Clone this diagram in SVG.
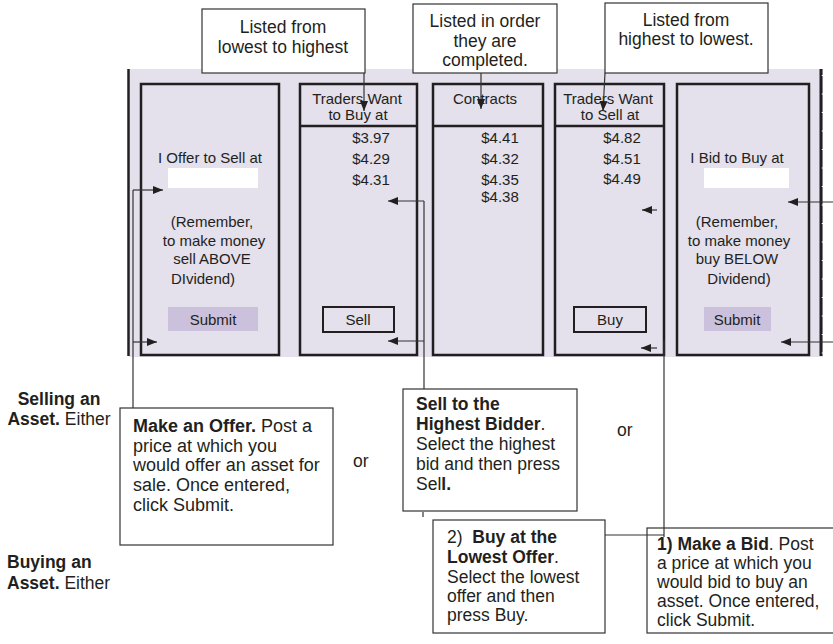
<svg xmlns="http://www.w3.org/2000/svg" width="833" height="644" viewBox="0 0 833 644">
<style>
  text { font-family: "Liberation Sans", Arial, sans-serif; fill: #231f20; }
  .col { fill: none; stroke: #231f20; stroke-width: 2.5; }
  .call { fill: #ffffff; stroke: #333333; stroke-width: 1.2; }
  .ct { font-size: 17.5px; }
  .ct18 { font-size: 18px; }
  .ft { font-size: 15px; }
  .mid { text-anchor: middle; }
  .b { font-weight: bold; }
  .conn { fill: none; stroke: #333333; stroke-width: 1.2; }
  .input { fill: #ffffff; }
  .submit { fill: #cbc1dc; }
  .btn { fill: none; stroke: #231f20; stroke-width: 2; }
</style>
<defs>
  <marker id="ah" viewBox="0 0 10 8" refX="10" refY="4" markerWidth="10" markerHeight="8" markerUnits="userSpaceOnUse" orient="auto">
    <path d="M0,0 L10,4 L0,8 Z" fill="#231f20"/>
  </marker>
</defs>

<g id="panel">
  <rect x="129" y="69" width="694" height="288" fill="#e4e0ec"/>
  <line x1="128.5" y1="69" x2="128.5" y2="356" stroke="#231f20" stroke-width="2.5"/>
  <line x1="821" y1="69" x2="821" y2="356" stroke="#231f20" stroke-width="3"/>
  <line x1="822.5" y1="75" x2="822.5" y2="356" stroke="#ffffff" stroke-width="1.5" stroke-dasharray="1 17.5"/>
</g>

<g id="col-offer">
  <rect class="col" x="141" y="84" width="138" height="271"/>
  <text class="ft mid" x="210" y="163">I Offer to Sell at</text>
  <rect class="input" x="168" y="168" width="90" height="20"/>
  <text class="ft mid" x="212" y="227">(Remember,</text>
  <text class="ft mid" x="214" y="246">to make money</text>
  <text class="ft mid" x="212" y="264">sell ABOVE</text>
  <text class="ft mid" x="203" y="284">DIvidend)</text>
  <rect class="submit" x="168" y="307" width="90" height="24"/>
  <text class="ft mid" x="213" y="325">Submit</text>
</g>

<g id="col-buy-orders">
  <rect class="col" x="300" y="84" width="117" height="271"/>
  <line class="col" x1="300" y1="126" x2="417" y2="126"/>
  <text class="ft mid" x="357" y="104">Traders Want</text>
  <text class="ft mid" x="358" y="120">to Buy at</text>
  <text class="ft mid" x="371" y="143">$3.97</text>
  <text class="ft mid" x="371" y="164">$4.29</text>
  <text class="ft mid" x="371" y="185">$4.31</text>
  <rect class="btn" x="323" y="307" width="71" height="25"/>
  <text class="ft mid" x="358" y="325">Sell</text>
</g>

<g id="col-contracts">
  <rect class="col" x="433" y="84" width="110" height="271"/>
  <line class="col" x1="433" y1="126" x2="543" y2="126"/>
  <text class="ft mid" x="485" y="104">Contracts</text>
  <text class="ft mid" x="500" y="143">$4.41</text>
  <text class="ft mid" x="500" y="164">$4.32</text>
  <text class="ft mid" x="500" y="185">$4.35</text>
  <text class="ft mid" x="500" y="202">$4.38</text>
</g>

<g id="col-sell-orders">
  <rect class="col" x="555" y="84" width="109" height="271"/>
  <line class="col" x1="555" y1="126" x2="664" y2="126"/>
  <text class="ft mid" x="608" y="104">Traders Want</text>
  <text class="ft mid" x="610" y="120">to Sell at</text>
  <text class="ft mid" x="622" y="143">$4.82</text>
  <text class="ft mid" x="622" y="164">$4.51</text>
  <text class="ft mid" x="622" y="184">$4.49</text>
  <rect class="btn" x="574" y="307" width="72" height="25"/>
  <text class="ft mid" x="610" y="325">Buy</text>
</g>

<g id="col-bid">
  <rect class="col" x="677" y="84" width="132" height="271"/>
  <text class="ft mid" x="737" y="163">I Bid to Buy at</text>
  <rect class="input" x="704" y="168" width="85" height="20"/>
  <text class="ft mid" x="737" y="227">(Remember,</text>
  <text class="ft mid" x="739" y="246">to make money</text>
  <text class="ft mid" x="737" y="264">buy BELOW</text>
  <text class="ft mid" x="739" y="284">Dividend)</text>
  <rect class="submit" x="704" y="307" width="67" height="24"/>
  <text class="ft mid" x="737" y="325">Submit</text>
</g>

<g id="note-lowest-highest">
  <rect class="call" x="202" y="9" width="163" height="64"/>
  <text class="ct mid" x="283" y="33">Listed from</text>
  <text class="ct mid" x="283" y="53">lowest to highest</text>
</g>

<g id="note-order">
  <rect class="call" x="413" y="4" width="144" height="69"/>
  <text class="ct mid" x="485" y="27">Listed in order</text>
  <text class="ct mid" x="485" y="47">they are</text>
  <text class="ct mid" x="485" y="66">completed.</text>
</g>

<g id="note-highest-lowest">
  <rect class="call" x="605" y="3" width="163" height="70"/>
  <text class="ct mid" x="686" y="26">Listed from</text>
  <text class="ct mid" x="686" y="45">highest to lowest.</text>
</g>

<g id="label-selling">
  <text class="ct mid b" x="59" y="405">Selling an</text>
  <text class="ct mid" x="59" y="425"><tspan class="b">Asset.</tspan> Either</text>
</g>

<g id="label-buying">
  <text class="ct b" x="7" y="568">Buying an</text>
  <text class="ct" x="7" y="589"><tspan class="b">Asset.</tspan> Either</text>
</g>

<g id="note-make-offer">
  <rect class="call" x="120" y="408" width="213" height="137"/>
  <text class="ct18" x="133" y="432"><tspan class="b">Make an Offer.</tspan> Post a</text>
  <text class="ct18" x="133" y="452">price at which you</text>
  <text class="ct18" x="133" y="471">would offer an asset for</text>
  <text class="ct18" x="133" y="491">sale. Once entered,</text>
  <text class="ct18" x="133" y="511">click Submit.</text>
</g>

<g id="or-1">
  <text class="ct" x="353" y="467">or</text>
</g>

<g id="note-sell-highest">
  <rect class="call" x="403" y="389" width="174" height="122"/>
  <text class="ct b" x="416" y="410">Sell to the</text>
  <text class="ct" x="416" y="430"><tspan class="b">Highest Bidder</tspan>.</text>
  <text class="ct" x="416" y="450">Select the highest</text>
  <text class="ct" x="416" y="470">bid and then press</text>
  <text class="ct" x="416" y="490">Sel<tspan class="b">l.</tspan></text>
</g>

<g id="or-2">
  <text class="ct" x="617" y="436">or</text>
</g>

<g id="note-buy-lowest">
  <rect class="call" x="433" y="520" width="172" height="113"/>
  <text class="ct" x="447" y="543" xml:space="preserve">2)  <tspan class="b">Buy at the</tspan></text>
  <text class="ct" x="447" y="563"><tspan class="b">Lowest Offer</tspan>.</text>
  <text class="ct" x="447" y="583">Select the lowest</text>
  <text class="ct" x="447" y="602">offer and then</text>
  <text class="ct" x="447" y="621">press Buy.</text>
</g>

<g id="note-make-bid">
  <rect class="call" x="647" y="528" width="200" height="105"/>
  <text class="ct" x="657" y="550"><tspan class="b">1) Make a Bid</tspan>. Post</text>
  <text class="ct" x="657" y="569">a price at which you</text>
  <text class="ct" x="657" y="588">would bid to buy an</text>
  <text class="ct" x="657" y="607">asset. Once entered,</text>
  <text class="ct" x="657" y="626">click Submit.</text>
</g>

<g id="connectors">
  <line class="conn" x1="364" y1="73" x2="364" y2="111" marker-end="url(#ah)"/>
  <line class="conn" x1="481" y1="73" x2="481" y2="109" marker-end="url(#ah)"/>
  <line class="conn" x1="605" y1="73" x2="603" y2="111" marker-end="url(#ah)"/>

  <line class="conn" x1="133" y1="190" x2="133" y2="408"/>
  <line class="conn" x1="133" y1="190" x2="163" y2="190" marker-end="url(#ah)"/>
  <line class="conn" x1="133" y1="342" x2="157" y2="342" marker-end="url(#ah)"/>

  <line class="conn" x1="424" y1="201" x2="424" y2="389"/>
  <line class="conn" x1="424" y1="201" x2="388" y2="201" marker-end="url(#ah)"/>
  <line class="conn" x1="424" y1="341" x2="388" y2="341" marker-end="url(#ah)"/>
  <line class="conn" x1="423" y1="512" x2="423" y2="517"/>

  <line class="conn" x1="657" y1="210" x2="642" y2="210" marker-end="url(#ah)"/>
  <line class="conn" x1="657" y1="348" x2="641" y2="348" marker-end="url(#ah)"/>
  <line class="conn" x1="664" y1="340" x2="664" y2="537"/>
  <line class="conn" x1="605" y1="535" x2="664" y2="535"/>

  <line class="conn" x1="840" y1="202" x2="788" y2="202" marker-end="url(#ah)"/>
  <line class="conn" x1="840" y1="342" x2="781" y2="342" marker-end="url(#ah)"/>
</g>
</svg>
